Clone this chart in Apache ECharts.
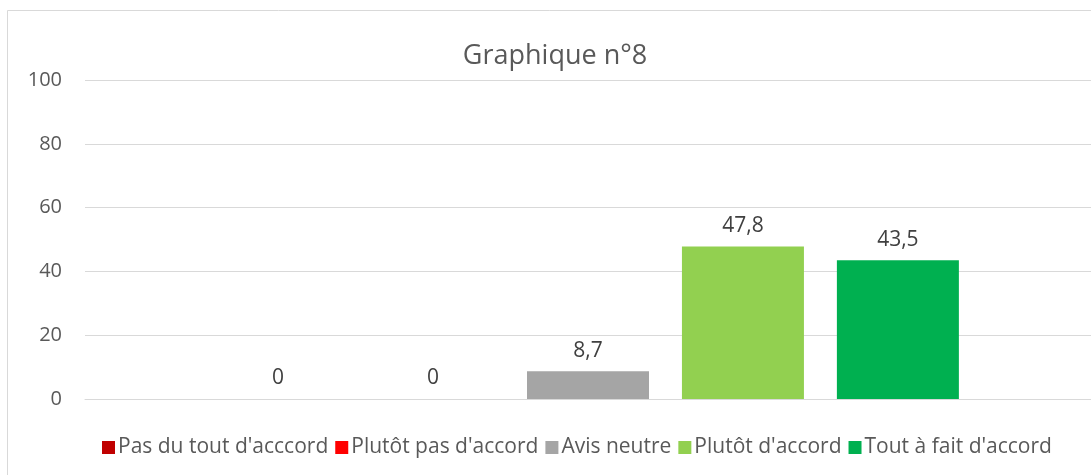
<!DOCTYPE html>
<html>
<head>
<meta charset="UTF-8">
<title>Graphique n°8</title>
<script src="https://cdn.jsdelivr.net/npm/echarts@6/dist/echarts.min.js"></script>
<style>
  html, body { margin: 0; padding: 0; background: #fff; }
  #chart { width: 1091px; height: 475px; }
</style>
</head>
<body>
<div id="chart"></div>
<script>
// données
var categories = [''];
var seriesNames = ["Pas du tout d'acccord", "Plutôt pas d'accord", "Avis neutre", "Plutôt d'accord", "Tout à fait d'accord"];
var seriesValues = [0, 0, 8.7, 47.8, 43.5];
var seriesColors = ['#C00000', '#FF0000', '#A5A5A5', '#92D050', '#00B050'];
var yTicks = [0, 20, 40, 60, 80, 100];

var font = '"Open Sans", sans-serif';

var series = seriesNames.map(function (name, i) {
  return {
    name: name,
    type: 'bar',
    data: [seriesValues[i]],
    barWidth: 122,
    barGap: '27%',
    itemStyle: { color: seriesColors[i] },
    label: {
      show: true,
      position: 'top',
      distance: 10,
      color: '#404040',
      fontSize: 21,
      fontFamily: font,
      formatter: function (p) { return String(p.value).replace('.', ','); }
    }
  };
});

var myChart = echarts.init(document.getElementById('chart'));
myChart.setOption({
  backgroundColor: '#fff',
  animation: false,
  graphic: [{
    type: 'rect',
    shape: { x: 7.5, y: 10.5, width: 1100, height: 480 },
    style: { fill: 'none', stroke: '#d9d9d9', lineWidth: 1 },
    silent: true
  }],
  title: {
    text: 'Graphique n°8',
    left: 550,
    textAlign: 'center',
    top: 38,
    textStyle: { color: '#595959', fontSize: 27, fontWeight: 'normal', fontFamily: font }
  },
  legend: {
    left: 97,
    top: 432,
    itemWidth: 13,
    itemHeight: 13,
    itemGap: 7,
    icon: 'rect',
    data: seriesNames,
    textStyle: { color: '#595959', fontSize: 21, fontFamily: font, padding: [0, 0, 0, -2] }
  },
  grid: { left: 85, top: 80, width: 1014, height: 319 },
  xAxis: {
    type: 'category',
    data: categories,
    axisLine: { lineStyle: { color: '#d9d9d9' } },
    axisTick: { show: false },
    axisLabel: { show: false }
  },
  yAxis: {
    type: 'value',
    min: yTicks[0],
    max: yTicks[yTicks.length - 1],
    interval: 20,
    axisLine: { show: false },
    axisTick: { show: false },
    axisLabel: { color: '#595959', fontSize: 20, margin: 23, fontFamily: font },
    splitLine: { lineStyle: { color: '#d9d9d9', width: 1 } }
  },
  series: series
});
</script>
</body>
</html>
